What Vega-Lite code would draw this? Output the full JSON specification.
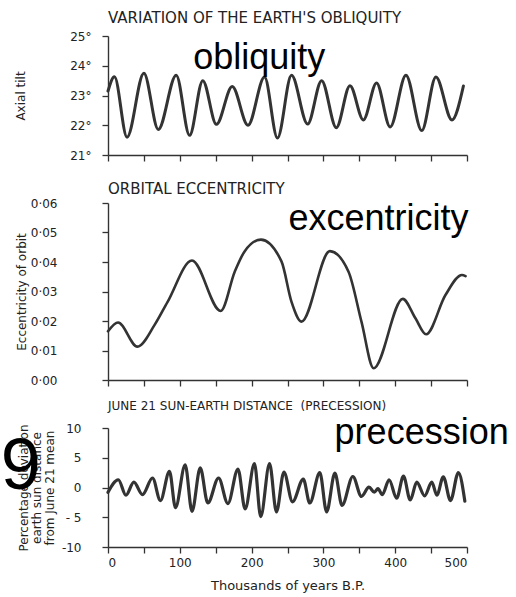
{
  "$schema": "https://vega.github.io/schema/vega-lite/v6.json",
  "background": "white",
  "padding": {"left": 0, "top": 11, "right": 2, "bottom": 2},
  "bounds": "flush",
  "spacing": 48,
  "datasets": {
    "obl": [
      {"t": 0, "v": 23.15}, {"t": 9, "v": 23.63}, {"t": 26.5, "v": 21.6}, {"t": 50, "v": 23.75},
      {"t": 70, "v": 21.86}, {"t": 95, "v": 23.68}, {"t": 113.6, "v": 21.66}, {"t": 132, "v": 23.5},
      {"t": 151, "v": 22.03}, {"t": 173, "v": 23.3}, {"t": 195, "v": 22.0}, {"t": 218, "v": 23.62},
      {"t": 236, "v": 21.57}, {"t": 255.6, "v": 23.68}, {"t": 278, "v": 22.04}, {"t": 297.5, "v": 23.5},
      {"t": 318, "v": 21.92}, {"t": 337, "v": 23.33}, {"t": 355.7, "v": 22.18}, {"t": 374, "v": 23.42},
      {"t": 393, "v": 21.94}, {"t": 415, "v": 23.68}, {"t": 437, "v": 21.82}, {"t": 456.7, "v": 23.62},
      {"t": 479, "v": 22.18}, {"t": 495, "v": 23.32}
    ],
    "ecc": [
      {"t": 0, "v": 0.0165}, {"t": 14, "v": 0.0195}, {"t": 41, "v": 0.0113}, {"t": 64.7, "v": 0.0186},
      {"t": 83, "v": 0.0265}, {"t": 117, "v": 0.0405}, {"t": 157, "v": 0.0234}, {"t": 176.5, "v": 0.0367},
      {"t": 190, "v": 0.0435}, {"t": 213, "v": 0.0476}, {"t": 241.6, "v": 0.0402}, {"t": 255.6, "v": 0.0265},
      {"t": 269.5, "v": 0.0198}, {"t": 309, "v": 0.0437}, {"t": 335, "v": 0.0367}, {"t": 353, "v": 0.0198},
      {"t": 370, "v": 0.004}, {"t": 410.6, "v": 0.0275}, {"t": 428, "v": 0.021}, {"t": 443, "v": 0.0155},
      {"t": 470, "v": 0.0288}, {"t": 493, "v": 0.0356}, {"t": 498, "v": 0.0352}
    ],
    "pre": [
      {"t": 0, "v": -0.8}, {"t": 14.4, "v": 1.3}, {"t": 25, "v": -1.3}, {"t": 36, "v": 0.9},
      {"t": 48, "v": -1.2}, {"t": 62, "v": 1.6}, {"t": 73, "v": -2.2}, {"t": 85.6, "v": 2.7},
      {"t": 94, "v": -3.4}, {"t": 107.5, "v": 3.8}, {"t": 117, "v": -4.0}, {"t": 128.5, "v": 3.3},
      {"t": 139, "v": -2.6}, {"t": 154, "v": 1.6}, {"t": 167, "v": -2.7}, {"t": 181, "v": 3.1},
      {"t": 191, "v": -3.6}, {"t": 204, "v": 4.0}, {"t": 212.7, "v": -4.9}, {"t": 225, "v": 4.0},
      {"t": 234.6, "v": -4.1}, {"t": 245, "v": 2.6}, {"t": 257, "v": -2.4}, {"t": 272, "v": 1.4},
      {"t": 281, "v": -2.6}, {"t": 295, "v": 2.5}, {"t": 304.5, "v": -4.1}, {"t": 316, "v": 2.4},
      {"t": 326, "v": -3.0}, {"t": 341, "v": 1.85}, {"t": 353, "v": -1.5}, {"t": 363.5, "v": 0.05},
      {"t": 371, "v": -0.8}, {"t": 376, "v": -0.2}, {"t": 382, "v": -1.2}, {"t": 391.5, "v": 1.3},
      {"t": 402, "v": -1.8}, {"t": 411.5, "v": 1.9}, {"t": 421, "v": -2.1}, {"t": 430, "v": 0.9},
      {"t": 441, "v": -1.4}, {"t": 451, "v": 0.9}, {"t": 458, "v": -1.3}, {"t": 467, "v": 1.8},
      {"t": 477, "v": -2.2}, {"t": 488, "v": 2.5}, {"t": 497, "v": -2.3}
    ],
    "labels": [
      {"panel": "obl", "label": "obliquity", "t": 118.7, "v": 23.89},
      {"panel": "ecc", "label": "excentricity", "t": 251.4, "v": 0.0508},
      {"panel": "pre", "label": "precession", "t": 315.6, "v": 7.34},
      {"panel": "big", "label": "9", "t": -149.4, "v": -0.2}
    ]
  },
  "config": {
    "view": {"stroke": null},
    "font": "DejaVu Sans",
    "axis": {
      "grid": false,
      "domainColor": "#333", "domainWidth": 1.4,
      "tickColor": "#333", "tickWidth": 1.3, "tickSize": 6,
      "labelColor": "#222", "titleColor": "#222",
      "labelFont": "DejaVu Sans", "titleFont": "DejaVu Sans",
      "titleFontWeight": "normal", "labelFontSize": 12, "titleFontSize": 12,
      "labelOverlap": false
    },
    "title": {"anchor": "start", "frame": "group", "fontSize": 15, "fontWeight": "normal", "color": "#222", "font": "DejaVu Sans"}
  },
  "vconcat": [
    {
      "width": 359, "height": 119,
      "title": {"text": "VARIATION OF THE EARTH'S OBLIQUITY", "offset": 4},
      "encoding": {
        "x": {"field": "t", "type": "quantitative", "scale": {"domain": [0, 500], "nice": false},
              "axis": {"values": [0, 50, 100, 150, 200, 250, 300, 350, 400, 450, 500], "labels": false, "title": null}},
        "y": {"field": "v", "type": "quantitative", "scale": {"domain": [21, 25], "nice": false, "zero": false},
              "axis": {"values": [21, 22, 23, 24, 25], "labelOverlap": false, "labelAlign": "right", "labelExpr": "datum.value + '°'", "labelPadding": 11, "title": "Axial tilt", "titlePadding": 42}}
      },
      "layer": [
        {
          "data": {"name": "obl"},
          "mark": {"type": "line", "interpolate": "monotone", "color": "#333", "strokeWidth": 3, "strokeCap": "round"}
        },
        {
          "data": {"name": "labels"},
          "transform": [{"filter": "datum.panel == 'obl'"}],
          "mark": {"type": "text", "align": "left", "baseline": "alphabetic", "font": "Liberation Sans", "fontSize": 36, "color": "black"},
          "encoding": {"text": {"field": "label"}}
        }
      ]
    },
    {
      "width": 359, "height": 177,
      "title": {"text": "ORBITAL ECCENTRICITY", "offset": 0.5},
      "encoding": {
        "x": {"field": "t", "type": "quantitative", "scale": {"domain": [0, 500], "nice": false},
              "axis": {"values": [0, 50, 100, 150, 200, 250, 300, 350, 400, 450, 500], "labels": false, "title": null}},
        "y": {"field": "v", "type": "quantitative", "scale": {"domain": [0, 0.06], "nice": false},
              "axis": {"values": [0, 0.01, 0.02, 0.03, 0.04, 0.05, 0.06], "labelOverlap": false, "labelAlign": "right", "labelExpr": "'0·0' + round(datum.value * 100)", "labelPadding": 45, "title": "Eccentricity of orbit", "titlePadding": 2}}
      },
      "layer": [
        {
          "data": {"name": "ecc"},
          "mark": {"type": "line", "interpolate": "monotone", "color": "#333", "strokeWidth": 2.6, "strokeCap": "round"}
        },
        {
          "data": {"name": "labels"},
          "transform": [{"filter": "datum.panel == 'ecc'"}],
          "mark": {"type": "text", "align": "left", "baseline": "alphabetic", "font": "Liberation Sans", "fontSize": 36, "color": "black"},
          "encoding": {"text": {"field": "label"}}
        }
      ]
    },
    {
      "width": 359, "height": 119,
      "title": {"text": "JUNE 21 SUN-EARTH DISTANCE \u00a0(PRECESSION)", "offset": 1.5, "fontSize": 12},
      "encoding": {
        "x": {"field": "t", "type": "quantitative", "scale": {"domain": [0, 500], "nice": false},
              "axis": {"values": [0, 50, 100, 150, 200, 250, 300, 350, 400, 450, 500], "labelOverlap": false, "labelExpr": "datum.value % 100 == 0 ? datum.value + '' : ''", "labelPadding": 4, "title": "Thousands of years B.P.", "titleFontSize": 13, "titlePadding": 11}},
        "y": {"field": "v", "type": "quantitative", "scale": {"domain": [-10, 10], "nice": false},
              "axis": {"values": [-10, -5, 0, 5, 10], "labelOverlap": false, "labelAlign": "right", "labelExpr": "datum.value == -5 ? '- 5' : datum.value + ''", "labelPadding": 21, "title": ["Percentage deviation", "earth sun distance", "from June 21 mean"], "titleLineHeight": 13, "titlePadding": 5}}
      },
      "layer": [
        {
          "data": {"name": "pre"},
          "mark": {"type": "line", "interpolate": "monotone", "color": "#333", "strokeWidth": 3.2, "strokeCap": "round"}
        },
        {
          "data": {"name": "labels"},
          "transform": [{"filter": "datum.panel == 'pre'"}],
          "mark": {"type": "text", "align": "left", "baseline": "alphabetic", "font": "Liberation Sans", "fontSize": 36, "color": "black"},
          "encoding": {"text": {"field": "label"}}
        },
        {
          "data": {"name": "labels"},
          "transform": [{"filter": "datum.panel == 'big'"}],
          "mark": {"type": "text", "align": "left", "baseline": "alphabetic", "font": "Liberation Sans", "fontSize": 72, "color": "black"},
          "encoding": {"text": {"field": "label"}}
        }
      ]
    }
  ]
}
